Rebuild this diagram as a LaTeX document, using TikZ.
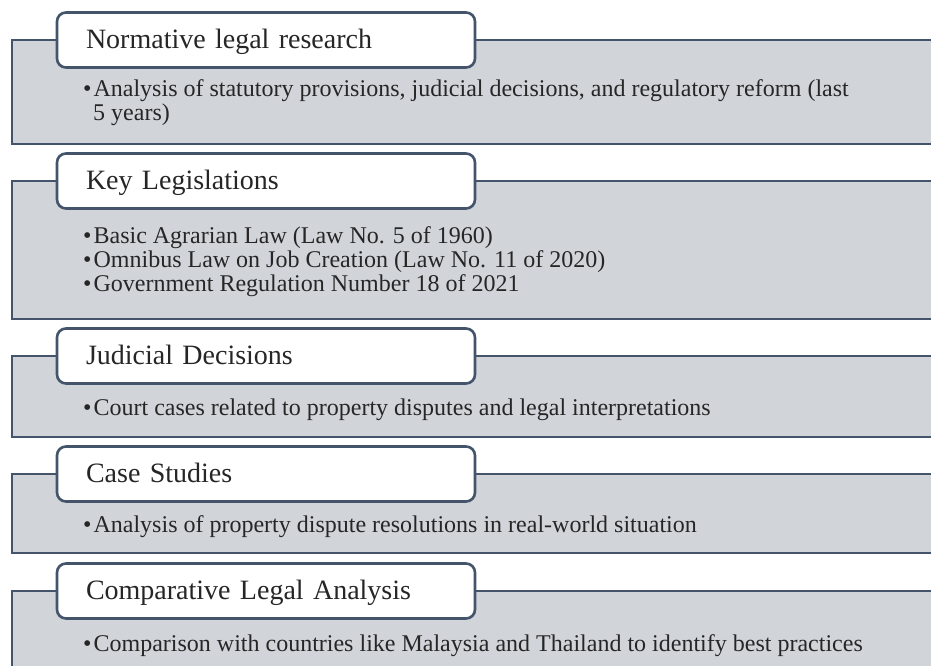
\documentclass[tikz,border=0pt]{standalone}
\usepackage{fontspec}
\setmainfont{Liberation Serif}
\definecolor{panelfill}{RGB}{209,213,218}
\definecolor{slate}{RGB}{68,84,106}
\tikzset{
  panel/.style={draw=slate, line width=1.6pt, fill=panelfill},
  titlebox/.style={draw=slate, line width=2.6pt, fill=white, rounded corners=9pt,
    minimum width=418pt, minimum height=55pt, text width=360pt, inner xsep=29pt,
    text height=20pt, text depth=3.4pt,
    align=left, font=\fontsize{28}{30}\selectfont, text=black!85},
  item/.style={anchor=base west, inner sep=0pt,
    font=\fontsize{24}{24}\selectfont, text=black!85}
}
\newcommand{\bul}{\textbullet\hspace{2pt}}
\begin{document}
\begin{tikzpicture}[x=1pt, y=-1pt]
    \useasboundingbox (0,0) rectangle (931,666);
    \clip (0,0) rectangle (931,666);

    % Normative legal research
    \begin{scope}[shift={(0,40)}]
        \draw[panel] (12,0) rectangle (945,104);
        \node[titlebox] (norm) at (266,0) {Normative legal research};
        \node[item] (normA) at (83,57) {\bul Analysis of statutory provisions, judicial decisions, and regulatory reform (last};
        \node[item] (normB) at (93,81) {5 years)};
    \end{scope}

    % Key Legislations
    \begin{scope}[shift={(0,181)}]
        \draw[panel] (12,0) rectangle (945,138);
        \node[titlebox] (keyleg) at (266,0) {Key Legislations};
        \node[item] (keylegA) at (83,62) {\bul Basic Agrarian Law (Law No. 5 of 1960)};
        \node[item] (keylegB) at (83,86) {\bul Omnibus Law on Job Creation (Law No. 11 of 2020)};
        \node[item] (keylegC) at (83,110) {\bul Government Regulation Number 18 of 2021};
    \end{scope}

    % Judicial Decisions
    \begin{scope}[shift={(0,356)}]
        \draw[panel] (12,0) rectangle (945,81);
        \node[titlebox] (judic) at (266,0) {Judicial Decisions};
        \node[item] (judicA) at (83,59) {\bul Court cases related to property disputes and legal interpretations};
    \end{scope}

    % Case Studies
    \begin{scope}[shift={(0,474)}]
        \draw[panel] (12,0) rectangle (945,79);
        \node[titlebox] (cases) at (266,0) {Case Studies};
        \node[item] (casesA) at (83,58) {\bul Analysis of property dispute resolutions in real-world situation};
    \end{scope}

    % Comparative Legal Analysis
    \begin{scope}[shift={(0,591)}]
        \draw[panel] (12,0) rectangle (945,120);
        \node[titlebox] (compar) at (266,0) {Comparative Legal Analysis};
        \node[item] (comparA) at (83,60) {\bul Comparison with countries like Malaysia and Thailand to identify best practices};
    \end{scope}
\end{tikzpicture}
\end{document}
